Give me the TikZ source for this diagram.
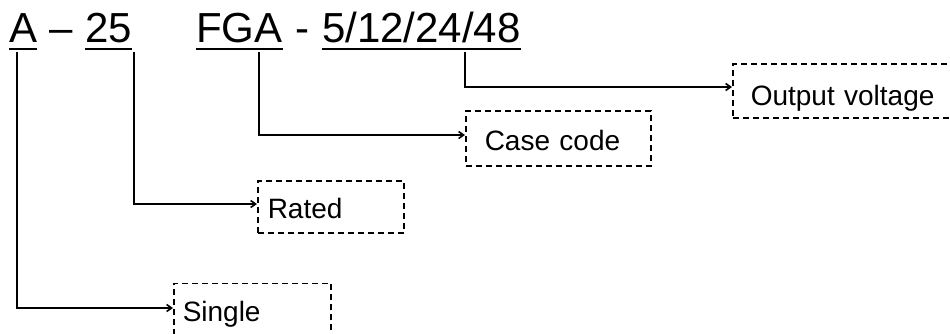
\documentclass[tikz,border=0pt]{standalone}
\usepackage{fontspec}
\setmainfont{Liberation Sans}
\usetikzlibrary{arrows.meta,calc}
\begin{document}
\begin{tikzpicture}[x=1pt,y=-1pt,
  toptext/.style={inner sep=0pt,anchor=base west,font=\fontsize{42}{50}\selectfont},
  uline/.style={line width=2.5pt},
  vl/.style={line width=2.5pt,line cap=rect},
  vlthin/.style={line width=1.5pt,line cap=rect},
  hl/.style={line width=1.6pt,-{Straight Barb[length=5pt,width=7pt]}},
  lbox/.style={draw,line width=1.5pt,dash pattern=on 6pt off 4pt,anchor=north west,
    inner ysep=0pt,align=left,text depth=0pt,font=\fontsize{28}{34}\selectfont}
]
\useasboundingbox (0,0) rectangle (950,333);
% top code text
\node[toptext] (nA) at (9,42) {A};
\node[toptext] (nD1) at (49,42) {–};
\node[toptext] (n25) at (85,42) {25};
\node[toptext] (nFGA) at (196,42) {FGA};
\node[toptext] (nD2) at (295,42) {-};
\node[toptext] (nV) at (322,42) {5/12/24/48};
\foreach \n in {nA,n25,nFGA,nV}
  \draw[uline] ($(\n.base west)+(0,7)$) -- ($(\n.base east)+(0,7)$);
% label boxes
\node[lbox,minimum width=240pt,minimum height=54pt,inner xsep=18pt,text width=204pt,text height=29pt] (bOut) at (732,63) {Output voltage};
\node[lbox,minimum width=185pt,minimum height=55pt,inner xsep=19pt,text width=147pt,text height=24pt] (bCase) at (465,110) {Case code};
\node[lbox,minimum width=146pt,minimum height=52pt,inner xsep=10pt,text width=126pt,text height=24pt] (bRated) at (257,180) {Rated};
\node[lbox,minimum width=157pt,minimum height=60pt,inner xsep=9pt,text width=139pt,text height=17pt] (bSingle) at (173,282.5) {Single};
% connector points
\coordinate (sA) at (17,53);   \coordinate (cA) at (17,308);
\coordinate (s25) at (134,53); \coordinate (c25) at (134,204);
\coordinate (sF) at (259,53);  \coordinate (cF) at (259,135);
\coordinate (sV) at (465,53);  \coordinate (cV) at (465,87);
% connectors
\draw[vl] (sA) -- (cA);
\draw[hl] (cA) -- (cA -| bSingle.west);
\draw[vlthin] (s25) -- (c25);
\draw[hl] (c25) -- (c25 -| bRated.west);
\draw[vl] (sF) -- (cF);
\draw[hl] (cF) -- (cF -| bCase.west);
\draw[vl] (sV) -- (cV);
\draw[hl] (cV) -- (cV -| bOut.west);
\end{tikzpicture}
\end{document}
